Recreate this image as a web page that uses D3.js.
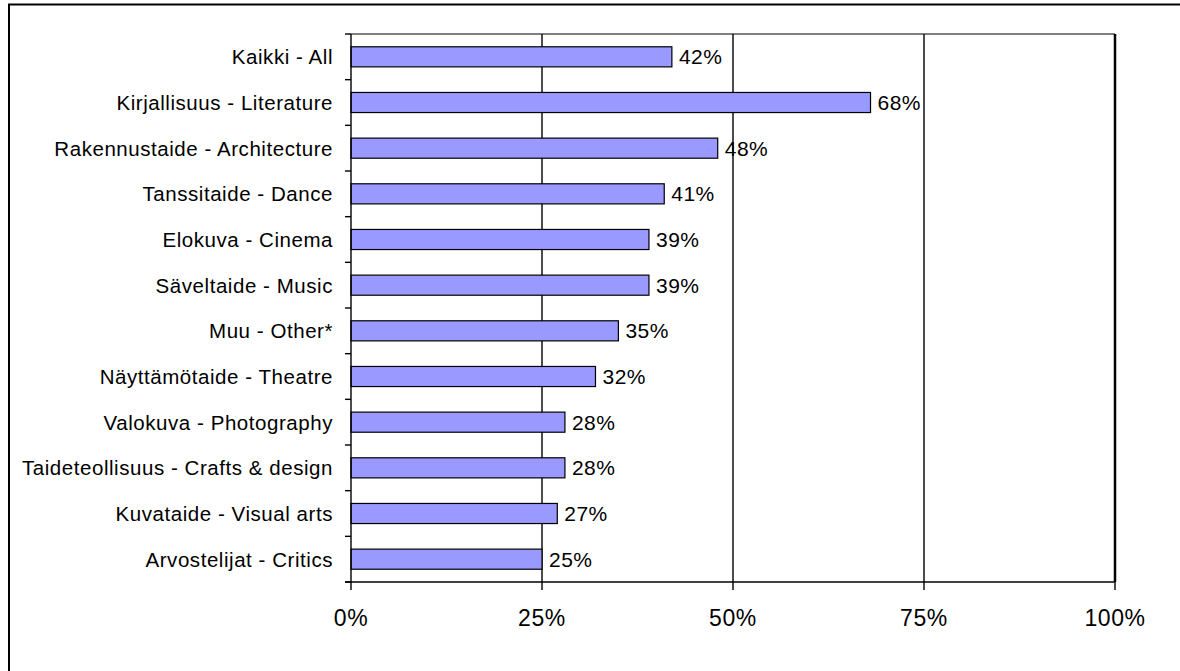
<!DOCTYPE html>
<html><head><meta charset="utf-8">
<script src="https://cdn.jsdelivr.net/npm/d3@7"></script>
<style>
html,body{margin:0;padding:0;background:#fff;}
svg{display:block;font-family:"Liberation Sans",Arial,sans-serif;}
</style></head>
<body>
<svg id="chart" width="1180" height="671"></svg>
<script>
const categories = [
  "Kaikki - All",
  "Kirjallisuus - Literature",
  "Rakennustaide - Architecture",
  "Tanssitaide - Dance",
  "Elokuva - Cinema",
  "Säveltaide - Music",
  "Muu - Other*",
  "Näyttämötaide - Theatre",
  "Valokuva - Photography",
  "Taideteollisuus - Crafts & design",
  "Kuvataide - Visual arts",
  "Arvostelijat - Critics"
];
const values = [42, 68, 48, 41, 39, 39, 35, 32, 28, 28, 27, 25];
const xTicks = [0, 25, 50, 75, 100];
const xTickLabels = ["0%", "25%", "50%", "75%", "100%"];

(function () {
const svg = d3.select("#chart");
const pLeft = 351, pRight = 1115, pTop = 34, pBottom = 582;

// outer frame
svg.append("path")
  .attr("d", `M9,671 L9,4.5 L1180,4.5`)
  .attr("fill", "none").attr("stroke", "#000").attr("stroke-width", 2);

const x = d3.scaleLinear().domain([0, 100]).range([pLeft, pRight]);
const y = d3.scaleBand().domain(categories).range([pTop, pBottom])
  .paddingInner(0.56).paddingOuter(0.28);

// plot border top
svg.append("line").attr("x1", pLeft).attr("x2", pRight).attr("y1", pTop).attr("y2", pTop)
  .attr("stroke", "#000").attr("stroke-width", 1.2);

// gridlines
svg.append("g").selectAll("line").data(xTicks.slice(1)).join("line")
  .attr("x1", d => x(d)).attr("x2", d => x(d))
  .attr("y1", pTop).attr("y2", pBottom)
  .attr("stroke", "#000")
  .attr("stroke-width", d => d === 100 ? 2.5 : 1.4);

// bars
svg.append("g").selectAll("rect").data(values).join("rect")
  .attr("x", x(0))
  .attr("y", (d, i) => y(categories[i]))
  .attr("width", d => x(d) - x(0))
  .attr("height", y.bandwidth())
  .attr("fill", "#9999FF")
  .attr("stroke", "#000").attr("stroke-width", 1.2);

// value labels
svg.append("g").selectAll("text").data(values).join("text")
  .attr("x", d => x(d) + 7)
  .attr("y", (d, i) => y(categories[i]) + y.bandwidth() / 2)
  .attr("dy", "0.36em")
  .attr("font-size", 21)
  .attr("letter-spacing", 0.5)
  .attr("fill", "#000")
  .text(d => d + "%");

// y axis
const yAxisG = svg.append("g");
yAxisG.append("line").attr("x1", pLeft).attr("x2", pLeft).attr("y1", pTop).attr("y2", pBottom)
  .attr("stroke", "#000").attr("stroke-width", 1.4);
const step = y.step();
const boundaries = d3.range(categories.length + 1).map(i => pTop + i * step);
yAxisG.selectAll("line.tk").data(boundaries).join("line").attr("class", "tk")
  .attr("x1", pLeft - 6).attr("x2", pLeft).attr("y1", d => d).attr("y2", d => d)
  .attr("stroke", "#000").attr("stroke-width", 1.4);
yAxisG.selectAll("text").data(categories).join("text")
  .attr("x", pLeft - 18)
  .attr("y", d => y(d) + y.bandwidth() / 2)
  .attr("dy", "0.36em")
  .attr("text-anchor", "end")
  .attr("font-size", 20.5)
  .attr("letter-spacing", 0.55)
  .attr("fill", "#000")
  .text(d => d);

// x axis
const xAxisG = svg.append("g");
xAxisG.append("line").attr("x1", pLeft - 6).attr("x2", pRight).attr("y1", pBottom).attr("y2", pBottom)
  .attr("stroke", "#000").attr("stroke-width", 1.4);
xAxisG.selectAll("line.tk").data(xTicks).join("line").attr("class", "tk")
  .attr("x1", d => x(d)).attr("x2", d => x(d)).attr("y1", pBottom).attr("y2", pBottom + 8)
  .attr("stroke", "#000").attr("stroke-width", 1.4);
xAxisG.selectAll("text").data(xTicks).join("text")
  .attr("x", d => x(d))
  .attr("y", 626)
  .attr("text-anchor", "middle")
  .attr("font-size", 23)
  .attr("letter-spacing", 0.6)
  .attr("fill", "#000")
  .text((d, i) => xTickLabels[i]);
})();
</script>
</body></html>
